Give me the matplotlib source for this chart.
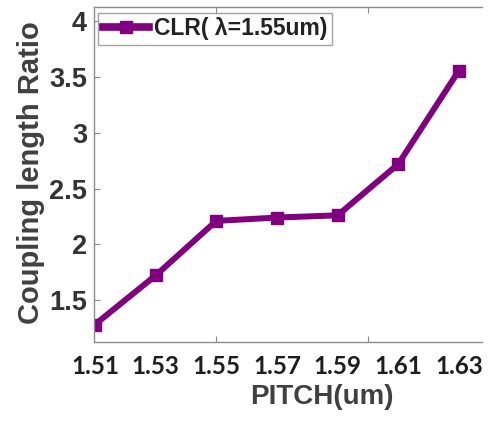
import matplotlib
matplotlib.use("Agg")
import matplotlib.pyplot as plt
from matplotlib.lines import Line2D

pitch = [1.51, 1.53, 1.55, 1.57, 1.59, 1.61, 1.63]
clr = [1.28, 1.72, 2.21, 2.24, 2.26, 2.72, 3.56]
xtick_labels = ["1.51", "1.53", "1.55", "1.57", "1.59", "1.61", "1.63"]
ytick_vals = [1.5, 2, 2.5, 3, 3.5, 4]
ytick_labels = ["1.5", "2", "2.5", "3", "3.5", "4"]
series_label = "CLR( \u03bb=1.55um)"

purple = "#800080"
text_col = "#333333"
spine_col = "#8c8c8c"

fig = plt.figure(figsize=(5.01, 4.21), dpi=100)
ax = fig.add_axes([94/501, 79/421, 388/501, 335/421])

ax.plot(pitch, clr, color=purple, lw=4.3, marker="s", ms=8.5,
        mfc=purple, mec=purple, label=series_label)

ax.set_xlim(1.5097, 1.6376)
ax.set_ylim(1.123, 4.13)

# real axis ticks (unlabelled), labels at data points
ax.xaxis.remove_overlapping_locs = False
ax.set_xticks([1.55, 1.6])
ax.set_xticklabels(["", ""])
ax.set_xticks(pitch, minor=True)
ax.set_xticklabels(xtick_labels, minor=True,
                   fontdict=dict(family="Lato", weight="bold", size=17.5, color="#1e1e1e"))
ax.tick_params(axis="x", which="minor", length=0, pad=9)
ax.tick_params(axis="x", which="major", direction="in", length=4, color=spine_col, top=True)

ax.set_yticks(ytick_vals)
ax.set_yticklabels(ytick_labels, fontdict=dict(family="Liberation Sans", weight="bold",
                                               size=19.5, color=text_col))
ax.tick_params(axis="y", direction="in", length=4, color=spine_col, pad=5)

for s in ["left", "bottom", "top"]:
    ax.spines[s].set_color(spine_col)
    ax.spines[s].set_linewidth(1.0)
ax.spines["right"].set_visible(False)

ax.set_ylabel("Coupling length Ratio", family="Liberation Sans", weight="bold",
              size=21, color="#404040")
ax.yaxis.set_label_coords(-0.125, 0.505)
ax.set_xlabel("PITCH(um)", family="Liberation Sans", weight="bold", size=20,
              color="#404040")
ax.xaxis.set_label_coords(0.588, -0.125)

handle = Line2D([], [], color=purple, lw=5.5, marker="s", ms=8, mfc=purple, mec=purple)
leg = ax.legend([handle], [series_label], loc="upper left",
                bbox_to_anchor=(0.005, 0.99), frameon=True, fancybox=False,
                prop=dict(family="Liberation Sans", weight="bold", size=16.5),
                handlelength=2.0, handletextpad=0.25, borderpad=0.2,
                borderaxespad=0.1)
leg.get_frame().set_edgecolor("#8c8c8c")
leg.get_frame().set_linewidth(1.0)
for t in leg.get_texts():
    t.set_color("#222222")

fig.savefig("out.png", dpi=100)
